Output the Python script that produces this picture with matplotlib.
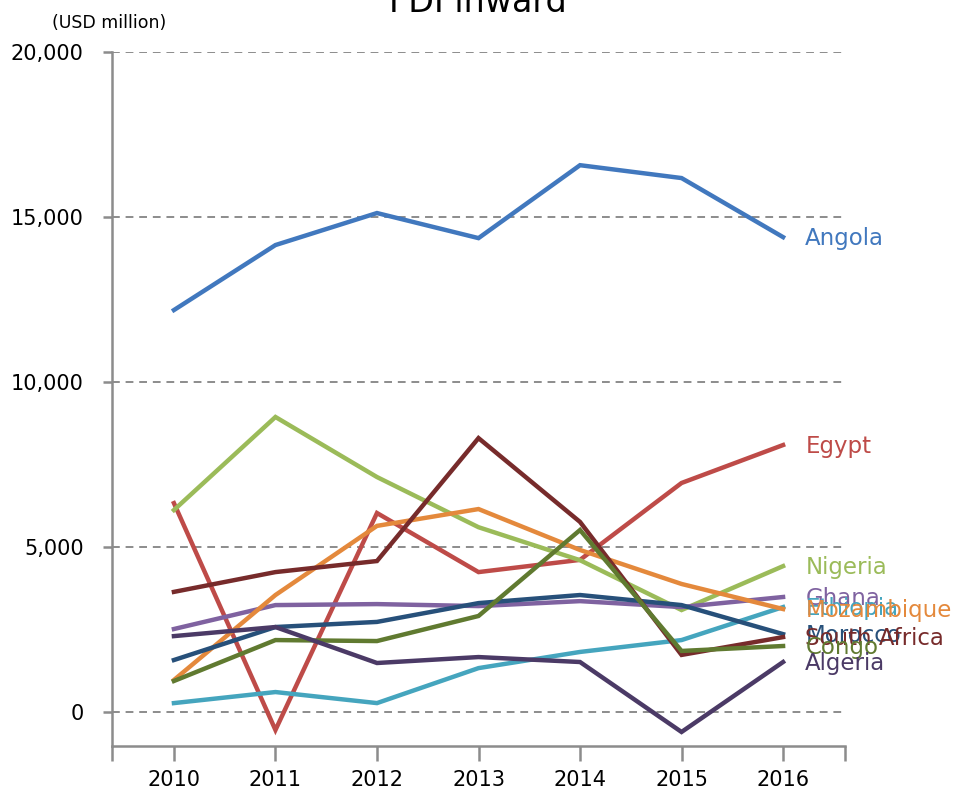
import matplotlib
matplotlib.use("Agg")
import matplotlib.pyplot as plt
from matplotlib.ticker import FuncFormatter, FixedLocator

years = [2010, 2011, 2012, 2013, 2014, 2015, 2016]

angola       = [12180, 14150, 15120, 14360, 16570, 16180, 14390]
egypt        = [6330, -545, 6030, 4240, 4610, 6940, 8090]
nigeria      = [6120, 8940, 7120, 5600, 4600, 3090, 4420]
ghana        = [2515, 3240, 3270, 3210, 3360, 3180, 3485]
ethiopia     = [270, 605, 270, 1330, 1820, 2180, 3180]
mozambique   = [970, 3545, 5640, 6150, 4910, 3880, 3120]
morocco      = [1575, 2575, 2730, 3300, 3545, 3240, 2360]
south_africa = [3640, 4240, 4575, 8300, 5760, 1730, 2270]
congo        = [940, 2180, 2150, 2910, 5515, 1850, 2000]
algeria      = [2300, 2575, 1485, 1665, 1515, -605, 1515]

series_names = ["Angola", "Egypt", "Nigeria", "Ghana", "Ethiopia", "Mozambique",
                "Morocco", "South Africa", "Congo", "Algeria"]
series_values = [angola, egypt, nigeria, ghana, ethiopia, mozambique,
                 morocco, south_africa, congo, algeria]
colors = ["#4178BE", "#BE4B48", "#9BBB59", "#7F62A0", "#45A5BE", "#E4893C",
          "#27507A", "#772B2B", "#607A30", "#4B3A66"]

yticks = [0, 5000, 10000, 15000, 20000]

fig = plt.figure(figsize=(9.54, 7.91), dpi=100)
ax = fig.add_axes([112/954, 45/791, 733/954, 694/791])

for name, vals, c in zip(series_names, series_values, colors):
    ax.plot(years, vals, color=c, lw=3.2, solid_joinstyle="miter", zorder=3)
    ax.annotate(name, xy=(years[-1], vals[-1]), xytext=(16, -1),
                textcoords="offset points", va="center", ha="left",
                color=c, fontsize=16.5, annotation_clip=False)

ax.set_xlim(2009.39, 2016.61)
ax.set_ylim(-1030, 20000)

ax.set_yticks(yticks)
ax.yaxis.set_major_formatter(FuncFormatter(lambda v, p: f"{int(v):,}"))
ax.grid(axis="y", color="#8C8C8C", ls=(0, (4, 3)), lw=1.4, zorder=1)
ax.set_xticks(years)
ax.xaxis.set_minor_locator(FixedLocator([2009.39, 2016.61]))

for s in ["top", "right"]:
    ax.spines[s].set_visible(False)
for s in ["left", "bottom"]:
    ax.spines[s].set_color("#8C8C8C")
    ax.spines[s].set_linewidth(1.8)

ax.tick_params(axis="y", length=6.5, width=1.8, color="#8C8C8C", pad=14,
               labelsize=15, labelcolor="black")
ax.tick_params(axis="x", which="both", length=11, width=1.8, color="#8C8C8C",
               pad=6, labelsize=15, labelcolor="black")

fig.text(478/954, 1 - 12/791, "FDI inward", ha="center", va="baseline", fontsize=24)
fig.text(52/954, 1 - 28/791, "(USD million)", ha="left", va="baseline", fontsize=12.5)

fig.savefig("out.png", dpi=100)
